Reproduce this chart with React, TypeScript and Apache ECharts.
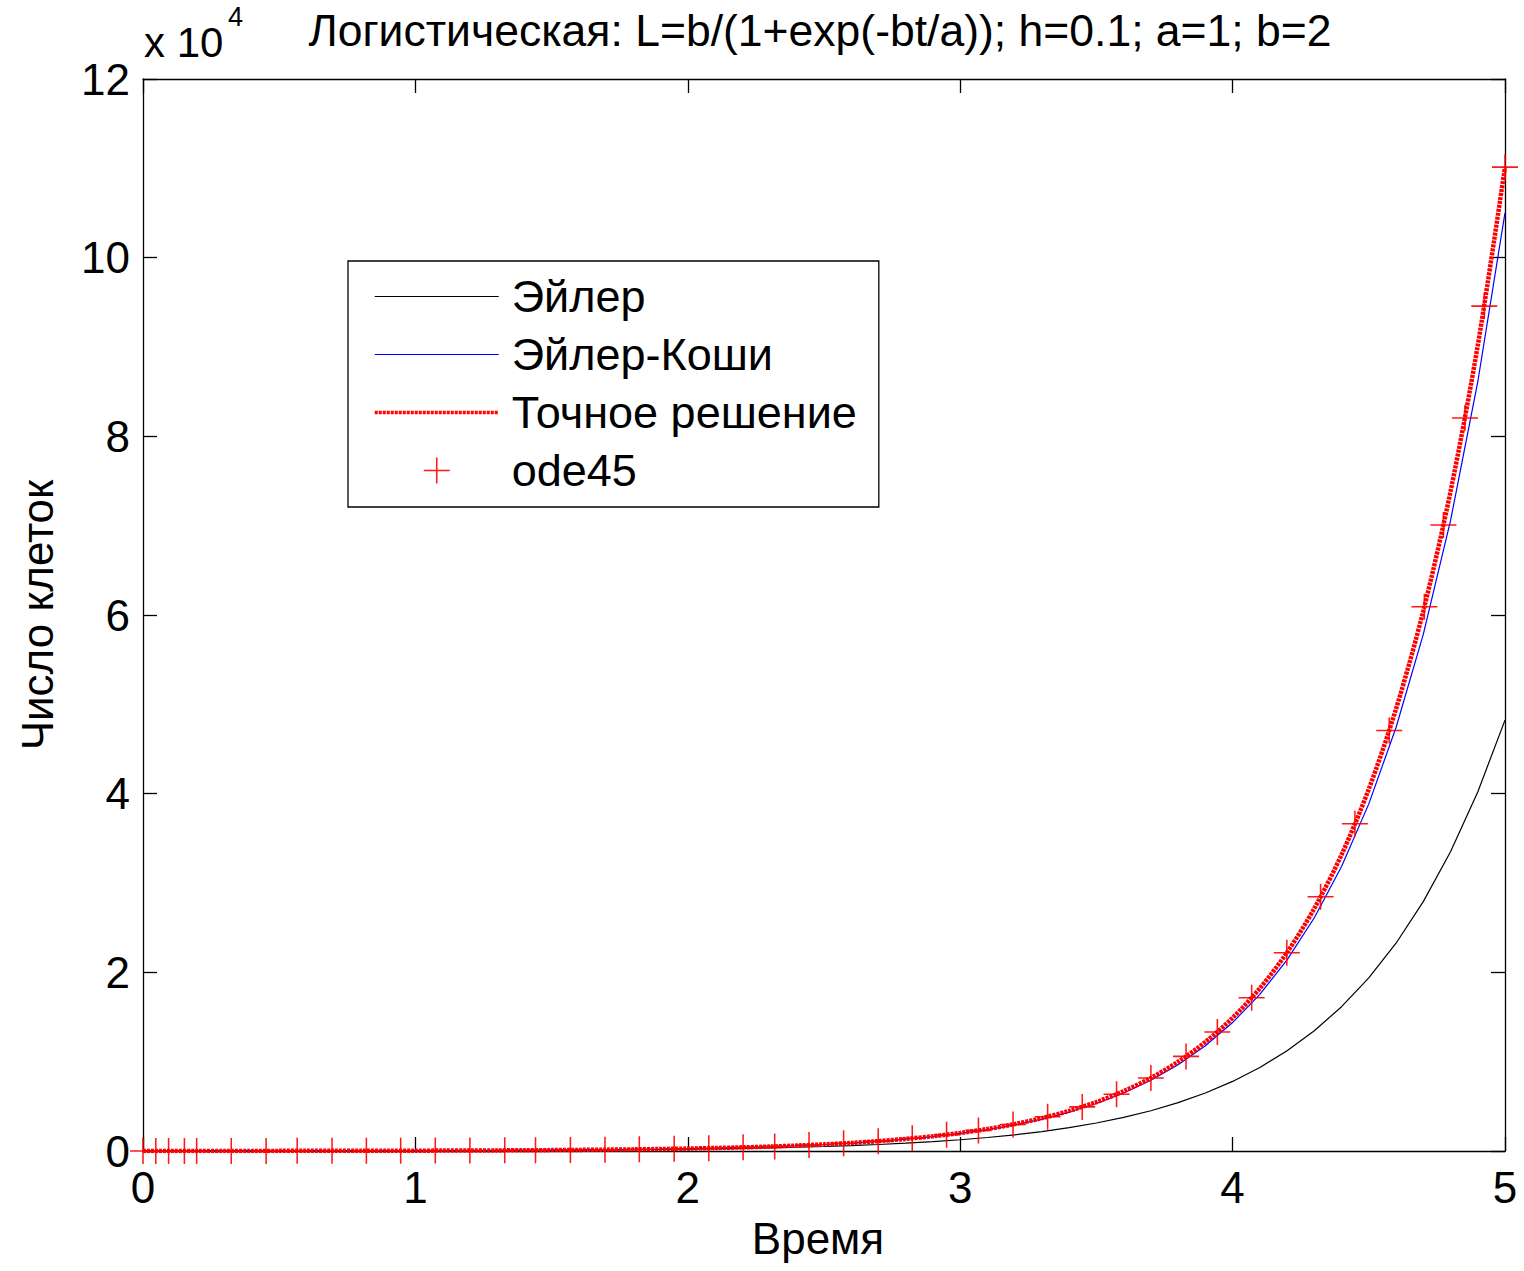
import React, { useEffect, useRef } from "react";
import * as echarts from "echarts";

const TITLE = "Логистическая: L=b/(1+exp(-bt/a)); h=0.1; a=1; b=2";
const X_NAME = "Время";
const Y_NAME = "Число клеток";
const EXP_BASE = "x 10";
const EXP_POWER = "4";
const SERIES_NAMES = ["Эйлер", "Эйлер-Коши", "Точное решение", "ode45"];
const Y_TICK_LABELS = ["0", "2", "4", "6", "8", "10", "12"];

const T_GRID = [
  0, 0.1, 0.2, 0.3, 0.4, 0.5, 0.6, 0.7, 0.8, 0.9,
  1.0, 1.1, 1.2, 1.3, 1.4, 1.5, 1.6, 1.7, 1.8, 1.9,
  2.0, 2.1, 2.2, 2.3, 2.4, 2.5, 2.6, 2.7, 2.8, 2.9,
  3.0, 3.1, 3.2, 3.3, 3.4, 3.5, 3.6, 3.7, 3.8, 3.9,
  4.0, 4.1, 4.2, 4.3, 4.4, 4.5, 4.6, 4.7, 4.8, 4.9, 5.0,
];

const EULER = [
  5.3, 6.4, 7.6, 9.2, 11, 13, 16, 19, 23, 27,
  33, 39, 47, 57, 68, 82, 98, 118, 141, 169,
  203, 244, 293, 351, 421, 506, 607, 728, 874, 1048,
  1258, 1510, 1812, 2174, 2609, 3131, 3757, 4508, 5410, 6492,
  7790, 9348, 11217, 13461, 16153, 19383, 23260, 27912, 33495, 40194, 48232,
];

const EULER_CAUCHY = [
  5.1, 6.2, 7.5, 9.2, 11, 14, 17, 20, 25, 30,
  37, 45, 55, 67, 82, 100, 122, 148, 181, 221,
  270, 329, 401, 489, 597, 728, 889, 1084, 1322, 1613,
  1968, 2401, 2930, 3574, 4360, 5320, 6490, 7918, 9660, 11785,
  14378, 17541, 21400, 26107, 31851, 38858, 47407, 57837, 70561, 86084, 105023,
];

const EXACT = [
  5, 6.1, 7.5, 9.1, 11, 14, 17, 20, 25, 30,
  37, 45, 55, 67, 82, 100, 123, 150, 183, 224,
  273, 333, 407, 497, 608, 742, 906, 1107, 1352, 1651,
  2017, 2464, 3009, 3675, 4489, 5483, 6697, 8180, 9991, 12203,
  14905, 18205, 22236, 27158, 33171, 40515, 49486, 60440, 73823, 90170, 110132,
];

const ODE45_T = [
  0, 0.047, 0.094, 0.152, 0.197, 0.324, 0.452, 0.566, 0.694, 0.82,
  0.946, 1.073, 1.2, 1.328, 1.441, 1.569, 1.696, 1.822, 1.95, 2.077,
  2.203, 2.319, 2.445, 2.572, 2.699, 2.824, 2.95, 3.067, 3.194, 3.321,
  3.448, 3.574, 3.7, 3.829, 3.944, 4.07, 4.199, 4.323, 4.449, 4.575,
  4.704, 4.774, 4.853, 4.924, 5.0,
];

const ODE45_Y = [
  5, 5.5, 6, 6.8, 7.4, 9.6, 12, 16, 20, 26,
  33, 43, 55, 71, 89, 115, 149, 191, 247, 318,
  410, 517, 665, 857, 1105, 1419, 1825, 2306, 2972, 3831,
  4939, 6354, 8180, 10589, 13327, 17146, 22190, 28463, 36622, 47070,
  60926, 70074, 82060, 94576, 110132,
];

const FONT = "'Liberation Sans', Arial, Helvetica, sans-serif";
const PLUS = "path://M9.4,0H10.6V9.4H20V10.6H10.6V20H9.4V10.6H0V9.4H9.4Z";

function pairs(xs: number[], ys: number[]) {
  return xs.map((x, i) => [x, ys[i]]);
}

export default function App() {
  const ref = useRef<HTMLDivElement>(null);

  useEffect(() => {
    document.body.style.margin = "0";
    const chart = echarts.init(ref.current!, null, { renderer: "svg" });
    const axisCommon = {
      type: "value" as const,
      axisLine: { show: true, onZero: false, lineStyle: { color: "#000", width: 1.3 } },
      axisTick: { show: true, inside: true, length: 14, lineStyle: { color: "#000", width: 1.3 } },
      splitLine: { show: false },
    };
    chart.setOption({
      animation: false,
      backgroundColor: "#fff",
      textStyle: { fontFamily: FONT },
      grid: { left: 143, top: 79, width: 1362, height: 1072, show: false, containLabel: false },
      xAxis: [
        {
          ...axisCommon,
          min: 0,
          max: 5,
          interval: 1,
          position: "bottom",
          axisLabel: { fontSize: 44, color: "#000", margin: 14, fontFamily: FONT },
          name: X_NAME,
          nameLocation: "middle",
          nameGap: 65,
          nameTextStyle: { fontSize: 44, color: "#000", fontFamily: FONT, padding: [0, 12, 0, 0] },
        },
        {
          ...axisCommon,
          min: 0,
          max: 5,
          interval: 1,
          position: "top",
          axisLabel: { show: false },
        },
      ],
      yAxis: [
        {
          ...axisCommon,
          min: 0,
          max: 120000,
          interval: 20000,
          position: "left",
          axisLabel: {
            fontSize: 44,
            color: "#000",
            margin: 13,
            fontFamily: FONT,
            formatter: (v: number) => Y_TICK_LABELS[Math.round(v / 20000)],
          },
          name: Y_NAME,
          nameLocation: "middle",
          nameGap: 84,
          nameTextStyle: { fontSize: 44, color: "#000", fontFamily: FONT },
        },
        {
          ...axisCommon,
          min: 0,
          max: 120000,
          interval: 20000,
          position: "right",
          axisLabel: { show: false },
        },
      ],
      legend: {
        orient: "vertical",
        left: 348,
        top: 261,
        padding: [13, 22, 14, 25],
        itemWidth: 124,
        itemHeight: 26,
        itemGap: 13,
        borderColor: "#000",
        borderWidth: 1.3,
        backgroundColor: "#fff",
        selectedMode: false,
        textStyle: { fontSize: 45, lineHeight: 45, color: "#000", fontFamily: FONT, padding: [0, 0, 0, 8] },
        data: [
          { name: SERIES_NAMES[0], itemStyle: { opacity: 0 }, lineStyle: { width: 1 } },
          { name: SERIES_NAMES[1], itemStyle: { opacity: 0 }, lineStyle: { width: 1 } },
          { name: SERIES_NAMES[2], itemStyle: { opacity: 0 }, lineStyle: { width: 3.5 } },
          { name: SERIES_NAMES[3] },
        ],
      },
      graphic: [
        {
          type: "text",
          x: 820,
          y: 30,
          style: { text: TITLE, fontSize: 44.5, fontFamily: FONT, fill: "#000", align: "center", verticalAlign: "middle" },
        },
        {
          type: "text",
          x: 144,
          y: 42,
          style: { text: EXP_BASE, fontSize: 42, fontFamily: FONT, fill: "#000", align: "left", verticalAlign: "middle" },
        },
        {
          type: "text",
          x: 228,
          y: 17,
          style: { text: EXP_POWER, fontSize: 27, fontFamily: FONT, fill: "#000", align: "left", verticalAlign: "middle" },
        },
      ],
      series: [
        {
          name: SERIES_NAMES[0],
          type: "line",
          data: pairs(T_GRID, EULER),
          symbol: "none",
          color: "#000000",
          lineStyle: { color: "#000000", width: 1.2 },
          z: 2,
        },
        {
          name: SERIES_NAMES[1],
          type: "line",
          data: pairs(T_GRID, EULER_CAUCHY),
          symbol: "none",
          color: "#0000ff",
          lineStyle: { color: "#0000ff", width: 1.2 },
          z: 3,
        },
        {
          name: SERIES_NAMES[2],
          type: "line",
          data: pairs(T_GRID, EXACT),
          symbol: "none",
          smooth: 0.3,
          color: "#ff0000",
          lineStyle: { color: "#ff0000", width: 4.5, type: [3, 1] },
          z: 4,
        },
        {
          name: SERIES_NAMES[3],
          type: "scatter",
          data: pairs(ODE45_T, ODE45_Y),
          symbol: PLUS,
          symbolSize: 26,
          itemStyle: { color: "#ff0000", opacity: 0.9 },
          z: 5,
        },
      ],
    });
    return () => chart.dispose();
  }, []);

  return <div ref={ref} style={{ width: 1524, height: 1271 }} />;
}
